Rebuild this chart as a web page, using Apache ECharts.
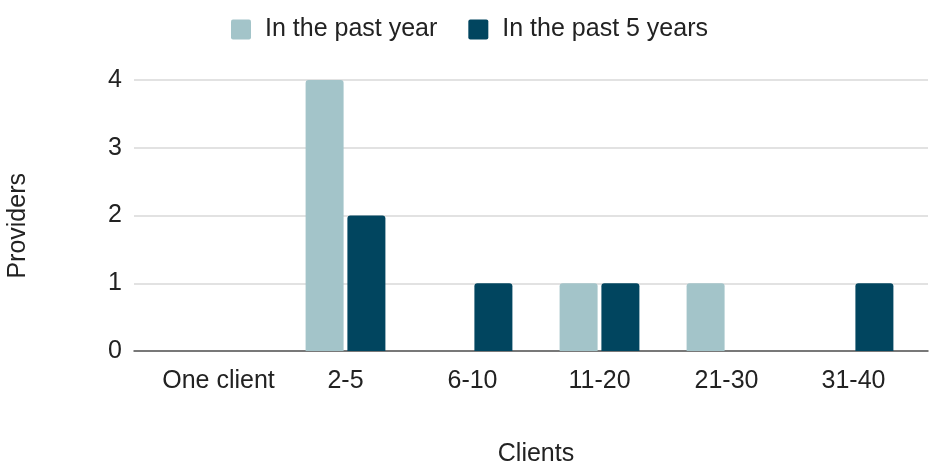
<!DOCTYPE html>
<html><head><meta charset="utf-8">
<script src="https://cdn.jsdelivr.net/npm/echarts@6/dist/echarts.min.js"></script>
<style>html,body{margin:0;padding:0;background:#fff}#c{width:929px;height:462px}</style>
</head><body><div id="c"></div>
<script>
const categories = ['One client', '2-5', '6-10', '11-20', '21-30', '31-40'];
const pastYear = [0, 4, 0, 1, 1, 0];
const past5Years = [0, 2, 1, 1, 0, 1];
const seriesNames = ['In the past year', 'In the past 5 years'];
const yTicks = [0, 1, 2, 3, 4];

const FONT = '"Liberation Sans", Arial, sans-serif';
const FS = 25;
const TXT = '#222222';
const chart = echarts.init(document.getElementById('c'), null, {renderer: 'canvas'});
chart.setOption({
  animation: false,
  textStyle: {fontFamily: FONT},
  color: ['#a3c4c9', '#01455f'],
  legend: {
    top: 12, left: 226, itemWidth: 20, itemHeight: 20, itemGap: 31,
    icon: 'path://M2,0H18Q20,0 20,2V18Q20,20 18,20H2Q0,20 0,18V2Q0,0 2,0Z',
    textStyle: {fontSize: FS, color: TXT, fontFamily: FONT, padding: [0, 0, 0, 9]},
    data: seriesNames
  },
  grid: [
    {left: 134, right: 1, top: 80, bottom: 111, outerBoundsMode: 'none', containLabel: false},
    {left: 155, right: 12, top: 80, bottom: 111, outerBoundsMode: 'none', containLabel: false}
  ],
  xAxis: [
    {gridIndex: 0, type: 'category', data: categories, axisLine: {show: true, lineStyle: {color: '#555', width: 1.5}},
      axisTick: {show: false}, axisLabel: {show: false}},
    {gridIndex: 1, type: 'category', data: categories, axisLine: {show: false}, axisTick: {show: false},
      axisLabel: {fontSize: FS, color: TXT, margin: 18, fontFamily: FONT, interval: 0},
      name: 'Clients', nameLocation: 'middle', nameGap: 91,
      nameTextStyle: {fontSize: FS, color: TXT, fontFamily: FONT}}
  ],
  yAxis: [
    {gridIndex: 0, type: 'value', min: 0, max: 4, interval: 1,
      axisLabel: {fontSize: FS, color: TXT, margin: 12, fontFamily: FONT},
      splitLine: {lineStyle: {color: '#d9d9d9', width: 1.5}}, axisLine: {show: false}, axisTick: {show: false}},
    {gridIndex: 1, type: 'value', min: 0, max: 4, interval: 1, show: false, splitLine: {show: false}}
  ],
  graphic: [{
    type: 'text', left: 6, top: 173, rotation: Math.PI / 2,
    style: {text: 'Providers', fill: TXT, font: FS + 'px ' + FONT}
  }],
  series: [
    {name: seriesNames[0], type: 'bar', xAxisIndex: 1, yAxisIndex: 1, data: pastYear,
      barWidth: 38, barGap: '10%', itemStyle: {borderRadius: [3, 3, 0, 0]}},
    {name: seriesNames[1], type: 'bar', xAxisIndex: 1, yAxisIndex: 1, data: past5Years,
      barWidth: 38, barGap: '10%', itemStyle: {borderRadius: [3, 3, 0, 0]}},
    {type: 'bar', xAxisIndex: 0, yAxisIndex: 0, data: [], silent: true}
  ]
});
</script></body></html>
